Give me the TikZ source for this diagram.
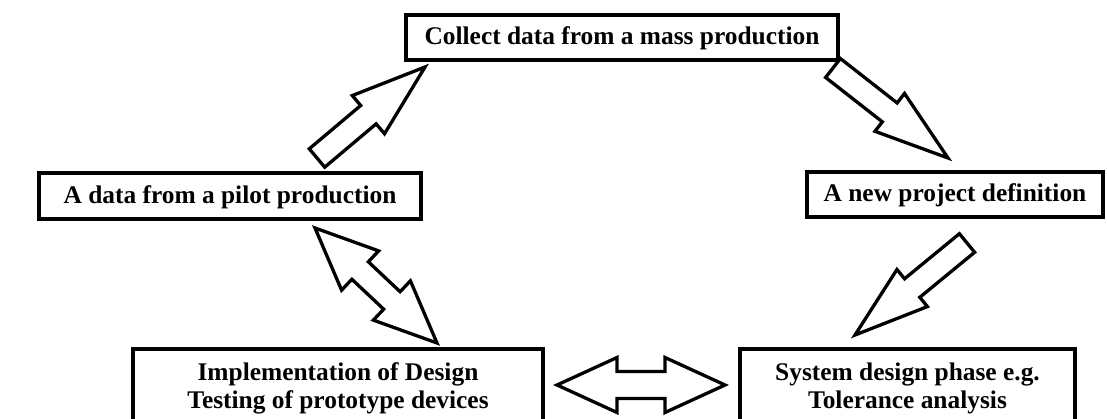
\documentclass[tikz,border=0pt]{standalone}
\usepackage{fontspec}
\setmainfont{Liberation Serif}
\usetikzlibrary{calc}
\tikzset{
  box/.style={draw=black, line width=4pt, fill=white, inner sep=0pt,
    font=\bfseries\fontsize{25.4}{28}\selectfont, align=center},
  onebox/.style={box, text height=20.5pt, text depth=5.5pt},
  blockarrow/.style={draw=black, line width=3.3pt, fill=white,
    line join=miter, miter limit=10},
}
% single block arrow: name, tail, tip, half shaft, half head, head length
\newcommand\BlkArrowOne[6]{%
  \coordinate (#1b) at ($(#3)!#6!(#2)$);
  \draw[blockarrow] ($(#2)!#4!90:(#3)$) -- ($(#1b)!#4!-90:(#2)$)
    -- ($(#1b)!#5!-90:(#2)$) -- (#3) -- ($(#1b)!#5!90:(#2)$)
    -- ($(#1b)!#4!90:(#2)$) -- ($(#2)!#4!-90:(#3)$) -- cycle;
}
% double block arrow: name, end 1, end 2, half shaft, half head, head length
\newcommand\BlkArrowTwo[6]{%
  \coordinate (#1b1) at ($(#2)!#6!(#3)$);
  \coordinate (#1b2) at ($(#3)!#6!(#2)$);
  \draw[blockarrow] (#2) -- ($(#1b1)!#5!90:(#3)$) -- ($(#1b1)!#4!90:(#3)$)
    -- ($(#1b2)!#4!-90:(#2)$) -- ($(#1b2)!#5!-90:(#2)$) -- (#3)
    -- ($(#1b2)!#5!90:(#2)$) -- ($(#1b2)!#4!90:(#2)$)
    -- ($(#1b1)!#4!-90:(#3)$) -- ($(#1b1)!#5!-90:(#3)$) -- cycle;
}
\begin{document}
\begin{tikzpicture}[x=1pt,y=-1pt]
\useasboundingbox (0,0) rectangle (1107,419);
\fill[white] (0,0) rectangle (1107,419);

\node[onebox, minimum width=432pt, minimum height=45pt] (mass) at (622,37.5)
  {Collect data from a mass production};
\node[onebox, minimum width=382pt, minimum height=46pt] (pilot) at (230,196)
  {A data from a pilot production};
\node[onebox, minimum width=296pt, minimum height=45pt] (proj) at (955,194.5)
  {A new project definition};
\node[box, minimum width=410pt, minimum height=78pt] (impl) at (338,388)
  {Implementation of Design\\Testing of prototype devices};
\node[box, minimum width=335pt, minimum height=78pt] (sys) at (907.5,388)
  {System design phase e.g.\\Tolerance analysis};

% arrow end points
\coordinate (a1t) at (317,158);
\coordinate (a1p) at (425,67);
\coordinate (a2t) at (833,68);
\coordinate (a2p) at (948,158);
\coordinate (a3t) at (967,243);
\coordinate (a3p) at (855,335);
\coordinate (a4u) at (315,228);
\coordinate (a4d) at (437,343);
\coordinate (a5l) at (557,385);
\coordinate (a5r) at (725,385);

\BlkArrowOne{pm}{a1t}{a1p}{12pt}{25pt}{74pt}
\BlkArrowOne{mp}{a2t}{a2p}{12pt}{24pt}{74pt}
\BlkArrowOne{ps}{a3t}{a3p}{12pt}{24pt}{74pt}
\BlkArrowTwo{pi}{a4u}{a4d}{12pt}{27pt}{62pt}
\BlkArrowTwo{is}{a5l}{a5r}{13.5pt}{27.5pt}{60pt}
\end{tikzpicture}
\end{document}
